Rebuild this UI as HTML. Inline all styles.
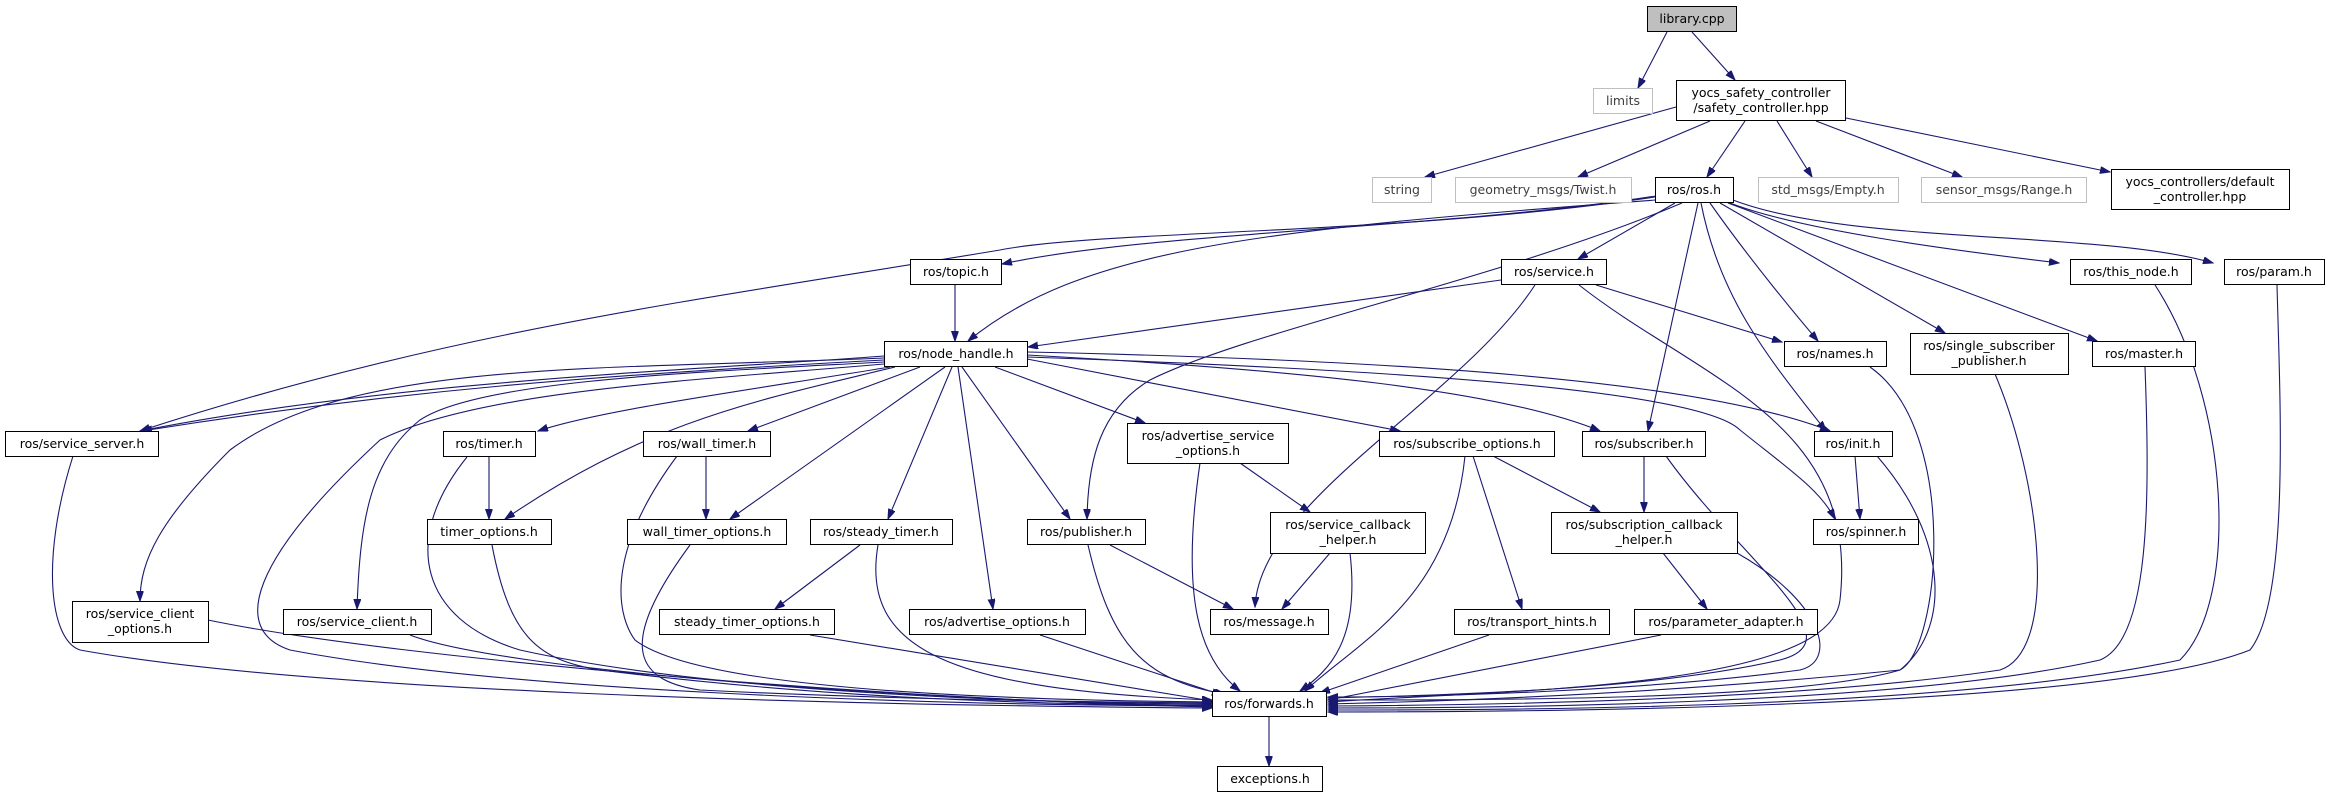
<!DOCTYPE html>
<html><head><meta charset="utf-8"><style>
html,body{margin:0;padding:0;background:#fff;}
svg{display:block;}
text{font-family:"DejaVu Sans","Liberation Sans",sans-serif;font-size:12.5px;fill:#000;text-anchor:middle;}
.g text{fill:#404040;}
rect.n{fill:#fff;stroke:#000;stroke-width:1;}
rect.gr{fill:#fff;stroke:#bfbfbf;stroke-width:1;}
path.e{fill:none;stroke:#191970;stroke-width:1.1;marker-end:url(#a);}
</style></head><body>
<svg width="2330" height="797" viewBox="0 0 2330 797" xmlns="http://www.w3.org/2000/svg">
<defs><marker id="a" markerWidth="11" markerHeight="8" refX="10" refY="3.5" orient="auto" markerUnits="userSpaceOnUse"><path d="M0,0 L10,3.5 L0,7 z" fill="#191970" stroke="#191970"/></marker></defs>
<g>
<path class="e" d="M1667,32 L1638,88"/>
<path class="e" d="M1692,32 L1735,80"/>
<path class="e" d="M1676,107 L1425,177"/>
<path class="e" d="M1710,121 L1578,177"/>
<path class="e" d="M1745,121 L1707,177"/>
<path class="e" d="M1777,121 L1812,177"/>
<path class="e" d="M1816,121 L1962,177"/>
<path class="e" d="M1846,118 L2110,172"/>
<path class="e" d="M955,285 L955,341"/>
<path class="e" d="M1656,196 C1450,228 1150,232 1002,264"/>
<path class="e" d="M1656,200 C1250,230 1080,250 968,341"/>
<path class="e" d="M1655,197 C1400,235 1100,230 1000,250 C700,300 450,330 140,431"/>
<path class="e" d="M1675,203 L1578,259"/>
<path class="e" d="M1682,203 C1500,280 1250,330 1150,380 C1100,410 1088,460 1087,519"/>
<path class="e" d="M1698,203 L1648,431"/>
<path class="e" d="M1701,203 C1720,300 1770,360 1826,431"/>
<path class="e" d="M1710,203 C1750,260 1800,320 1818,341"/>
<path class="e" d="M1720,203 L1945,333"/>
<path class="e" d="M1728,203 L2097,341"/>
<path class="e" d="M1730,203 C1800,230 1950,250 2059,263"/>
<path class="e" d="M1733,200 C1850,245 2100,230 2213,263"/>
<path class="e" d="M1501,280 L1028,347"/>
<path class="e" d="M1596,285 L1782,342"/>
<path class="e" d="M1535,285 C1460,400 1260,500 1255,607"/>
<path class="e" d="M1579,285 C1700,380 1860,420 1840,600 C1830,690 1500,690 1328,702"/>
<path class="e" d="M1870,367 C1960,430 1940,650 1900,670 C1700,690 1500,700 1328,704"/>
<path class="e" d="M1995,374 C2040,480 2060,650 2000,670 C1800,700 1500,705 1328,706"/>
<path class="e" d="M2145,367 C2150,500 2150,640 2100,660 C1900,705 1500,708 1328,708"/>
<path class="e" d="M2155,285 C2230,400 2240,600 2180,660 C1950,710 1500,710 1328,710"/>
<path class="e" d="M2277,285 C2280,400 2290,600 2250,650 C2100,710 1500,712 1328,712"/>
<path class="e" d="M1855,456 L1860,519"/>
<path class="e" d="M1877,456 C1950,540 1950,630 1900,670 C1800,700 1500,700 1328,700"/>
<path class="e" d="M1644,456 L1644,512"/>
<path class="e" d="M1666,456 C1740,560 1860,640 1780,660 C1650,690 1450,695 1328,698"/>
<path class="e" d="M1663,553 L1707,609"/>
<path class="e" d="M1737,553 C1820,600 1840,660 1800,670 C1650,690 1450,697 1328,697"/>
<path class="e" d="M1661,635 L1328,700"/>
<path class="e" d="M1489,635 L1320,693"/>
<path class="e" d="M1493,456 L1600,512"/>
<path class="e" d="M1473,456 L1522,609"/>
<path class="e" d="M1465,456 C1450,600 1360,640 1305,691"/>
<path class="e" d="M1330,553 L1282,609"/>
<path class="e" d="M1350,553 C1360,640 1330,670 1300,691"/>
<path class="e" d="M1240,463 L1310,512"/>
<path class="e" d="M1200,463 C1180,600 1200,660 1240,691"/>
<path class="e" d="M1110,545 L1233,609"/>
<path class="e" d="M1088,545 C1110,640 1140,680 1225,694"/>
<path class="e" d="M1040,635 L1222,695"/>
<path class="e" d="M860,545 L775,609"/>
<path class="e" d="M878,545 C860,650 950,690 1212,700"/>
<path class="e" d="M810,635 L1212,701"/>
<path class="e" d="M706,456 L706,519"/>
<path class="e" d="M677,456 C600,560 620,620 635,640 C700,690 1000,700 1212,702"/>
<path class="e" d="M690,545 C620,640 630,680 700,690 C900,700 1100,702 1212,703"/>
<path class="e" d="M489,456 L489,519"/>
<path class="e" d="M467,457 C400,540 420,620 520,650 C700,690 1000,703 1212,704"/>
<path class="e" d="M492,545 C510,640 540,660 600,670 C800,695 1000,705 1212,705"/>
<path class="e" d="M410,635 C500,670 900,700 1212,706"/>
<path class="e" d="M208,620 C400,660 900,700 1212,707"/>
<path class="e" d="M73,456 C40,560 50,640 80,650 C300,690 800,705 1212,708"/>
<path class="e" d="M1269,717 L1269,766"/>
<path class="e" d="M884,356 C700,370 400,380 140,431"/>
<path class="e" d="M884,360 C600,375 400,390 142,431"/>
<path class="e" d="M884,358 C600,370 350,360 230,450 C160,520 140,560 140,601"/>
<path class="e" d="M884,362 C700,372 480,380 420,420 C370,460 360,520 357,609"/>
<path class="e" d="M884,364 C700,380 480,390 380,440 C250,560 230,630 290,650 C500,690 900,705 1212,706"/>
<path class="e" d="M890,367 C750,390 600,410 538,431"/>
<path class="e" d="M895,367 C760,400 650,420 505,519"/>
<path class="e" d="M920,367 L748,431"/>
<path class="e" d="M945,367 L730,519"/>
<path class="e" d="M952,367 L888,519"/>
<path class="e" d="M958,367 L993,609"/>
<path class="e" d="M962,367 L1070,519"/>
<path class="e" d="M995,367 L1145,423"/>
<path class="e" d="M1027,359 L1400,431"/>
<path class="e" d="M1027,355 C1300,370 1500,390 1600,431"/>
<path class="e" d="M1027,352 C1400,360 1700,380 1830,431"/>
<path class="e" d="M1027,357 C1400,370 1700,390 1740,430 C1790,470 1820,490 1835,519"/>
</g>
<!-- nodes -->
<rect x="1647.5" y="6.5" width="89" height="25" fill="#bfbfbf" stroke="#000"/><text x="1692" y="23">library.cpp</text>
<g class="g">
<rect class="gr" x="1593.5" y="88.5" width="59" height="25"/><text x="1623" y="105">limits</text>
<rect class="gr" x="1372.5" y="177.5" width="59" height="25"/><text x="1402" y="194">string</text>
<rect class="gr" x="1455.5" y="177.5" width="176" height="25"/><text x="1543" y="194">geometry_msgs/Twist.h</text>
<rect class="gr" x="1758.5" y="177.5" width="140" height="25"/><text x="1828" y="194">std_msgs/Empty.h</text>
<rect class="gr" x="1921.5" y="177.5" width="165" height="25"/><text x="2004" y="194">sensor_msgs/Range.h</text>
</g>
<rect class="n" x="1676.5" y="80.5" width="169" height="40"/><text x="1761" y="97">yocs_safety_controller</text><text x="1761" y="112">/safety_controller.hpp</text>
<rect class="n" x="1655.5" y="177.5" width="78" height="25"/><text x="1694" y="194">ros/ros.h</text>
<rect class="n" x="2111.5" y="169.5" width="178" height="40"/><text x="2200" y="186">yocs_controllers/default</text><text x="2200" y="201">_controller.hpp</text>
<rect class="n" x="910.5" y="259.5" width="91" height="25"/><text x="956" y="276">ros/topic.h</text>
<rect class="n" x="1501.5" y="259.5" width="105" height="25"/><text x="1554" y="276">ros/service.h</text>
<rect class="n" x="2070.5" y="259.5" width="121" height="25"/><text x="2131" y="276">ros/this_node.h</text>
<rect class="n" x="2224.5" y="259.5" width="100" height="25"/><text x="2274" y="276">ros/param.h</text>
<rect class="n" x="884.5" y="341.5" width="143" height="25"/><text x="956" y="358">ros/node_handle.h</text>
<rect class="n" x="1784.5" y="341.5" width="102" height="25"/><text x="1835" y="358">ros/names.h</text>
<rect class="n" x="1910.5" y="333.5" width="158" height="41"/><text x="1989" y="350">ros/single_subscriber</text><text x="1989" y="365">_publisher.h</text>
<rect class="n" x="2092.5" y="341.5" width="103" height="25"/><text x="2144" y="358">ros/master.h</text>
<rect class="n" x="5.5" y="431.5" width="153" height="25"/><text x="82" y="448">ros/service_server.h</text>
<rect class="n" x="443.5" y="431.5" width="92" height="25"/><text x="489" y="448">ros/timer.h</text>
<rect class="n" x="643.5" y="431.5" width="127" height="25"/><text x="707" y="448">ros/wall_timer.h</text>
<rect class="n" x="1127.5" y="423.5" width="161" height="40"/><text x="1208" y="440">ros/advertise_service</text><text x="1208" y="455">_options.h</text>
<rect class="n" x="1379.5" y="431.5" width="175" height="25"/><text x="1467" y="448">ros/subscribe_options.h</text>
<rect class="n" x="1582.5" y="431.5" width="123" height="25"/><text x="1644" y="448">ros/subscriber.h</text>
<rect class="n" x="1814.5" y="431.5" width="78" height="25"/><text x="1853" y="448">ros/init.h</text>
<rect class="n" x="427.5" y="519.5" width="124" height="25"/><text x="489" y="536">timer_options.h</text>
<rect class="n" x="627.5" y="519.5" width="159" height="25"/><text x="707" y="536">wall_timer_options.h</text>
<rect class="n" x="810.5" y="519.5" width="142" height="25"/><text x="881" y="536">ros/steady_timer.h</text>
<rect class="n" x="1027.5" y="519.5" width="118" height="25"/><text x="1086" y="536">ros/publisher.h</text>
<rect class="n" x="1270.5" y="512.5" width="155" height="41"/><text x="1348" y="529">ros/service_callback</text><text x="1348" y="544">_helper.h</text>
<rect class="n" x="1551.5" y="512.5" width="186" height="41"/><text x="1644" y="529">ros/subscription_callback</text><text x="1644" y="544">_helper.h</text>
<rect class="n" x="1813.5" y="519.5" width="105" height="25"/><text x="1866" y="536">ros/spinner.h</text>
<rect class="n" x="72.5" y="601.5" width="136" height="41"/><text x="140" y="618">ros/service_client</text><text x="140" y="633">_options.h</text>
<rect class="n" x="283.5" y="609.5" width="148" height="25"/><text x="357" y="626">ros/service_client.h</text>
<rect class="n" x="659.5" y="609.5" width="175" height="25"/><text x="747" y="626">steady_timer_options.h</text>
<rect class="n" x="909.5" y="609.5" width="176" height="25"/><text x="997" y="626">ros/advertise_options.h</text>
<rect class="n" x="1210.5" y="609.5" width="118" height="25"/><text x="1269" y="626">ros/message.h</text>
<rect class="n" x="1454.5" y="609.5" width="155" height="25"/><text x="1532" y="626">ros/transport_hints.h</text>
<rect class="n" x="1634.5" y="609.5" width="183" height="25"/><text x="1726" y="626">ros/parameter_adapter.h</text>
<rect class="n" x="1212.5" y="691.5" width="114" height="25"/><text x="1269" y="708">ros/forwards.h</text>
<rect class="n" x="1217.5" y="766.5" width="105" height="25"/><text x="1270" y="783">exceptions.h</text>
</svg>
</body></html>
